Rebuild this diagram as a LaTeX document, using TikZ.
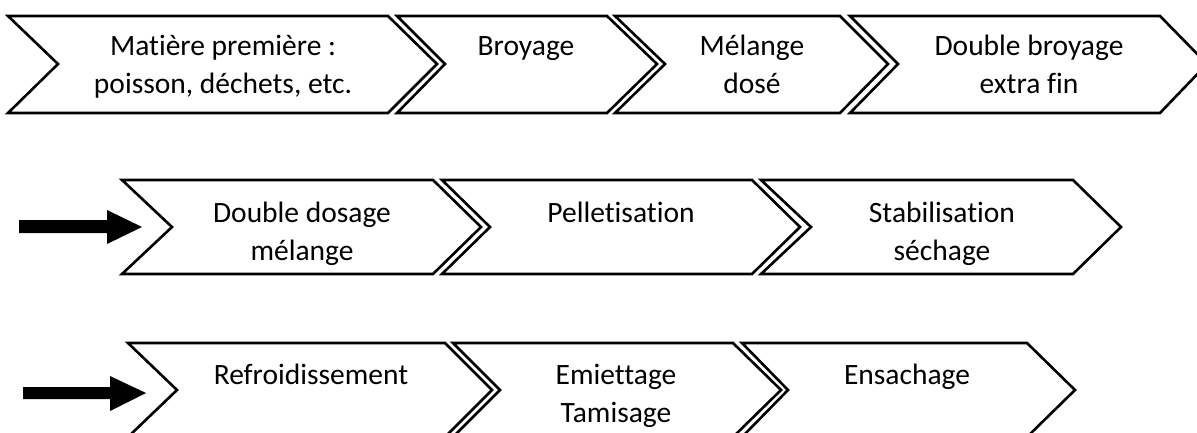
\documentclass[tikz,border=0pt]{standalone}
\usepackage{fontspec}
\setmainfont{Carlito}[Ligatures={NoCommon}]
\tikzset{
  chev/.style={draw=black, line width=2.6pt, line join=miter, fill=white},
  lbl/.style={anchor=base, inner sep=0pt, font=\fontsize{29.5}{38}\selectfont},
  blockarrow/.style={fill=black, draw=none}
}
\newcommand{\twoline}[2]{\begin{tabular}[t]{@{}c@{}}#1\\#2\end{tabular}}
% \chevshape{left}{notch}{shoulder}{tip}{top}{mid}{bottom}
\newcommand{\chevshape}[7]{%
  \draw[chev] (#1,#5) -- (#3,#5) -- (#4,#6) -- (#3,#7) -- (#1,#7) -- (#2,#6) -- cycle;}
\begin{document}
\begin{tikzpicture}[x=1pt,y=-1pt]
\useasboundingbox (0,0) rectangle (1197,432);
\clip (0,0) rectangle (1197,432);
% Row 1
\chevshape{8}{58}{388}{437}{16}{64}{113}
\chevshape{397}{445}{607}{657}{16}{64}{113}
\chevshape{615}{665}{840}{888}{16}{64}{113}
\chevshape{850}{898}{1160}{1207}{16}{64}{113}
\node[lbl] (s1) at (223,55) {\twoline{Matière première :}{poisson, déchets, etc.}};
\node[lbl] (s2) at (526,55) {Broyage};
\node[lbl] (s3) at (752,55) {\twoline{Mélange}{dosé}};
\node[lbl] (s4) at (1029,55) {\twoline{Double broyage}{extra fin}};
% Row 2
\chevshape{122}{172}{433}{481}{180}{227}{274}
\chevshape{442}{490}{752}{800}{180}{227}{274}
\chevshape{761}{811}{1073}{1121}{180}{227}{274}
\node[lbl] (s5) at (302,222) {\twoline{Double dosage}{mélange}};
\node[lbl] (s6) at (621,222) {Pelletisation};
\node[lbl] (s7) at (942,222) {\twoline{Stabilisation}{séchage}};
% Row 3
\chevshape{128}{177}{445}{492}{343}{390}{437}
\chevshape{453}{500}{733}{781}{343}{390}{437}
\chevshape{742}{788}{1027}{1075}{343}{390}{437}
\node[lbl] (s8) at (311,384) {Refroidissement};
\node[lbl] (s9) at (616,384) {\twoline{Emiettage}{Tamisage}};
\node[lbl] (s10) at (907,384) {Ensachage};
% Block arrows
\fill[blockarrow] (19,220) -- (107,220) -- (107,210) -- (142,227) -- (107,244) -- (107,233) -- (19,233) -- cycle;
\fill[blockarrow] (23,387) -- (110,387) -- (110,376) -- (146,393) -- (110,411) -- (110,399) -- (23,399) -- cycle;
\end{tikzpicture}
\end{document}
